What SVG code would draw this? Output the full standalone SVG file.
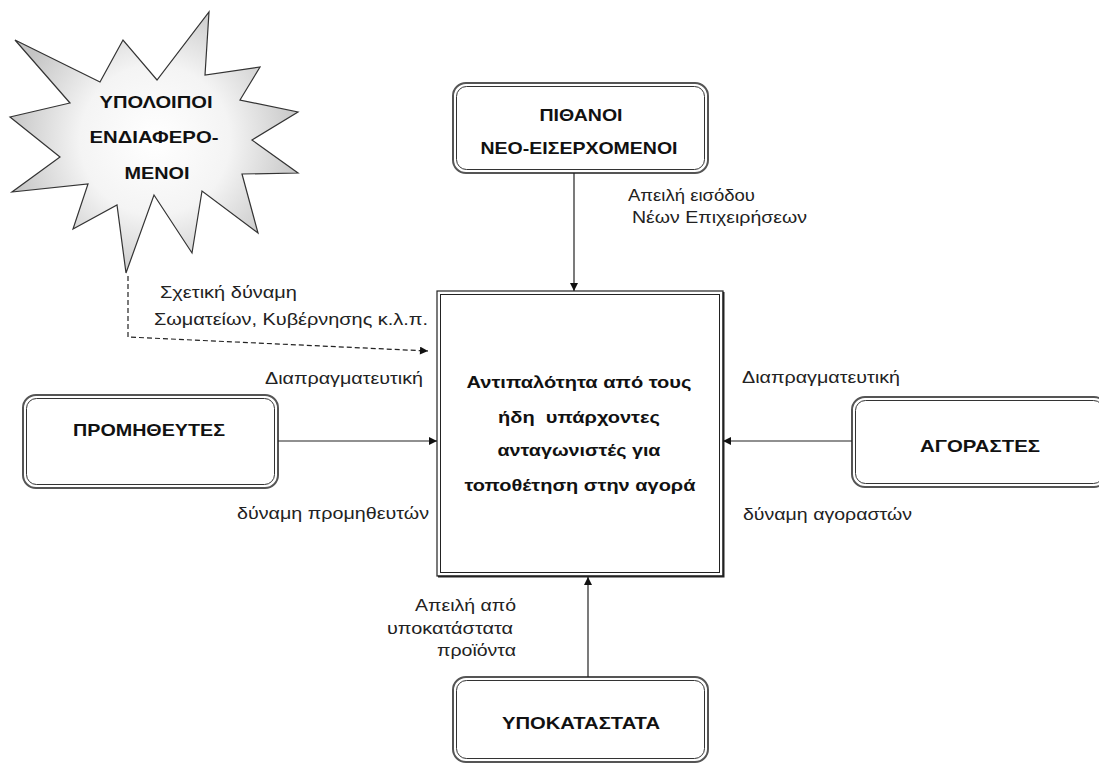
<svg xmlns="http://www.w3.org/2000/svg" width="1099" height="764" viewBox="0 0 1099 764">
<style>
.bold{font-family:"Liberation Sans",Arial,sans-serif;font-weight:bold;font-size:17px;fill:#111;text-anchor:middle}
.lbl{font-family:"Liberation Sans",Arial,sans-serif;font-size:16px;fill:#222}
.outer{fill:#fff;stroke:#555;stroke-width:2}
.inner{fill:none;stroke:#333;stroke-width:1}
.conn{stroke:#222;stroke-width:1.2;fill:none}
.dash{stroke:#222;stroke-width:1.2;fill:none;stroke-dasharray:5,3}
</style>
<defs>
<marker id="arr" viewBox="0 0 10 10" refX="10" refY="5" markerWidth="9" markerHeight="8" markerUnits="userSpaceOnUse" orient="auto">
<path d="M0,0 L10,5 L0,10 z" fill="#111"/>
</marker>
<radialGradient id="burst" cx="155" cy="140" r="150" gradientUnits="userSpaceOnUse">
<stop offset="0" stop-color="#ffffff"/>
<stop offset="0.5" stop-color="#f4f4f4"/>
<stop offset="1" stop-color="#c4c4c4"/>
</radialGradient>
</defs>
<rect width="1099" height="764" fill="#fff"/>

<g id="others">
<polygon points="209,12 205,75 260,67 240,100 298,112 252,140 298,173 242,174 258,233 202,191 192,253 154,195 126,273 117,205 73,229 88,184 12,192 60,157 10,117 70,103 15,40 100,82 123,40 157,80" fill="url(#burst)" stroke="#333" stroke-width="1.2" stroke-linejoin="miter"/>
<text class="bold" x="156" y="108" textLength="113" lengthAdjust="spacingAndGlyphs">ΥΠΟΛΟΙΠΟΙ</text>
<text class="bold" x="154" y="143" textLength="129" lengthAdjust="spacingAndGlyphs">ΕΝΔΙΑΦΕΡΟ-</text>
<text class="bold" x="157" y="179" textLength="65" lengthAdjust="spacingAndGlyphs">ΜΕΝΟΙ</text>
</g>

<g id="entrants">
<rect class="outer" x="453" y="83" width="255" height="90" rx="13"/>
<rect class="inner" x="456.5" y="86.5" width="248" height="83" rx="10"/>
<text class="bold" x="581" y="121" textLength="83" lengthAdjust="spacingAndGlyphs">ΠΙΘΑΝΟΙ</text>
<text class="bold" x="579" y="154" textLength="197" lengthAdjust="spacingAndGlyphs">ΝΕΟ-ΕΙΣΕΡΧΟΜΕΝΟΙ</text>
</g>

<g id="suppliers">
<rect class="outer" x="23" y="395" width="255" height="93" rx="13"/>
<rect class="inner" x="26.5" y="398.5" width="248" height="86" rx="10"/>
<text class="bold" x="149" y="436" textLength="152" lengthAdjust="spacingAndGlyphs">ΠΡΟΜΗΘΕΥΤΕΣ</text>
</g>

<g id="buyers">
<rect class="outer" x="852" y="397" width="255" height="90" rx="13"/>
<rect class="inner" x="855.5" y="400.5" width="248" height="83" rx="10"/>
<text class="bold" x="980" y="452" textLength="120" lengthAdjust="spacingAndGlyphs">ΑΓΟΡΑΣΤΕΣ</text>
</g>

<g id="substitutes">
<rect class="outer" x="453" y="677" width="255" height="85" rx="13"/>
<rect class="inner" x="456.5" y="680.5" width="248" height="78" rx="10"/>
<text class="bold" x="581" y="729" textLength="158" lengthAdjust="spacingAndGlyphs">ΥΠΟΚΑΤΑΣΤΑΤΑ</text>
</g>

<g id="rivalry">
<rect x="437" y="291" width="286" height="285" fill="#fff" stroke="#222" stroke-width="1.2"/>
<rect x="440.5" y="294.5" width="279" height="278" fill="none" stroke="#222" stroke-width="1"/>
<polyline points="438,576.5 723.5,576.5 723.5,292" fill="none" stroke="#222" stroke-width="2"/>
<text class="bold" x="579" y="388" textLength="225" lengthAdjust="spacingAndGlyphs">Αντιπαλότητα από τους</text>
<text class="bold" x="579" y="423" textLength="162" lengthAdjust="spacingAndGlyphs" xml:space="preserve">ήδη  υπάρχοντες</text>
<text class="bold" x="579" y="456" textLength="163" lengthAdjust="spacingAndGlyphs">ανταγωνιστές για</text>
<text class="bold" x="580" y="491" textLength="231" lengthAdjust="spacingAndGlyphs">τοποθέτηση στην αγορά</text>
</g>

<g id="connectors">
<line class="conn" x1="574" y1="173" x2="574" y2="291" marker-end="url(#arr)"/>
<line class="conn" x1="278" y1="441" x2="437" y2="441" marker-end="url(#arr)"/>
<line class="conn" x1="852" y1="441" x2="723" y2="441" marker-end="url(#arr)"/>
<line class="conn" x1="588" y1="677" x2="588" y2="577" marker-end="url(#arr)"/>
<polyline class="dash" points="128,276 128,337 428,351" marker-end="url(#arr)"/>
</g>

<g id="labels">
<text class="lbl" x="628" y="201" textLength="127" lengthAdjust="spacingAndGlyphs">Απειλή εισόδου</text>
<text class="lbl" x="632" y="223" textLength="175" lengthAdjust="spacingAndGlyphs">Νέων Επιχειρήσεων</text>
<text class="lbl" x="160" y="298" textLength="137" lengthAdjust="spacingAndGlyphs">Σχετική δύναμη</text>
<text class="lbl" x="154" y="325" textLength="274" lengthAdjust="spacingAndGlyphs">Σωματείων, Κυβέρνησης κ.λ.π.</text>
<text class="lbl" x="265" y="384" textLength="158" lengthAdjust="spacingAndGlyphs">Διαπραγματευτική</text>
<text class="lbl" x="237" y="519" textLength="192" lengthAdjust="spacingAndGlyphs">δύναμη προμηθευτών</text>
<text class="lbl" x="742" y="383" textLength="158" lengthAdjust="spacingAndGlyphs">Διαπραγματευτική</text>
<text class="lbl" x="743" y="520" textLength="169" lengthAdjust="spacingAndGlyphs">δύναμη αγοραστών</text>
<text class="lbl" x="415" y="611" textLength="101" lengthAdjust="spacingAndGlyphs">Απειλή από</text>
<text class="lbl" x="387" y="634" textLength="126" lengthAdjust="spacingAndGlyphs">υποκατάστατα</text>
<text class="lbl" x="437" y="656" textLength="79" lengthAdjust="spacingAndGlyphs">προϊόντα</text>
</g>
</svg>
